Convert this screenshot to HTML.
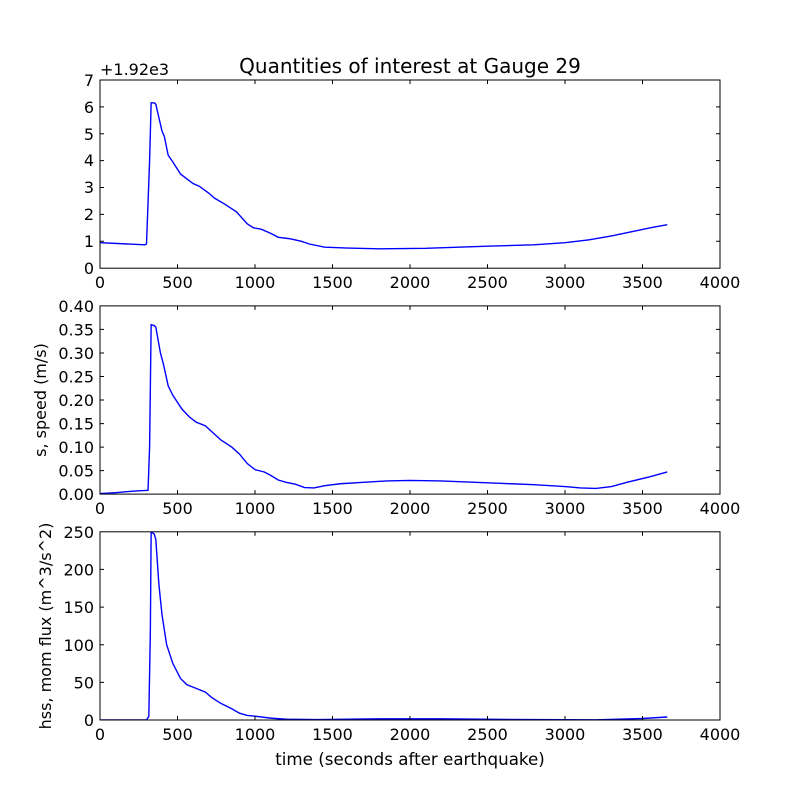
<!DOCTYPE html>
<html><head><meta charset="utf-8"><style>body{margin:0;background:#fff}svg{display:block}text{font-family:"DejaVu Sans","Liberation Sans",sans-serif;fill:#000}</style></head><body>
<svg width="800" height="800" viewBox="0 0 800 800" xmlns="http://www.w3.org/2000/svg">
<rect width="800" height="800" fill="#fff"/>
<defs>
<clipPath id="c1"><rect x="100" y="80" width="620" height="188.2"/></clipPath>
<clipPath id="c2"><rect x="100" y="305.9" width="620" height="188.2"/></clipPath>
<clipPath id="c3"><rect x="100" y="531.8" width="620" height="188.2"/></clipPath>
</defs>
<g clip-path="url(#c1)"><g transform="translate(100,268.2) scale(0.155,-26.89)">
<polyline fill="none" stroke="#0000ff" stroke-width="1.4" vector-effect="non-scaling-stroke" points="0,0.95 290,0.87 300,0.9 320,4 330,6.15 350,6.15 360,6.1 380,5.6 400,5.1 415,4.9 440,4.2 470,3.95 520,3.5 600,3.15 640,3.05 700,2.8 740,2.6 800,2.4 880,2.1 950,1.65 990,1.5 1040,1.45 1100,1.3 1150,1.15 1220,1.1 1300,1.0 1350,0.9 1450,0.78 1600,0.75 1800,0.72 2100,0.74 2500,0.82 2800,0.87 3000,0.95 3150,1.05 3300,1.2 3450,1.38 3550,1.5 3660,1.62"/>
</g></g>
<g clip-path="url(#c2)"><g transform="translate(100,494.1) scale(0.155,-470.5)">
<polyline fill="none" stroke="#0000ff" stroke-width="1.4" vector-effect="non-scaling-stroke" points="0,0.001 100,0.003 200,0.006 250,0.007 310,0.008 320,0.1 330,0.36 350,0.358 360,0.355 390,0.3 410,0.275 440,0.23 470,0.21 530,0.18 580,0.163 620,0.153 680,0.145 720,0.133 780,0.115 850,0.1 900,0.085 950,0.065 1000,0.052 1060,0.047 1100,0.04 1150,0.03 1200,0.025 1260,0.021 1320,0.014 1380,0.013 1450,0.018 1550,0.022 1700,0.025 1850,0.028 2000,0.029 2200,0.028 2500,0.024 2800,0.02 3000,0.016 3100,0.013 3200,0.012 3300,0.016 3400,0.025 3550,0.037 3660,0.047"/>
</g></g>
<g clip-path="url(#c3)"><g transform="translate(100,720) scale(0.155,-0.7528)">
<polyline fill="none" stroke="#0000ff" stroke-width="1.4" vector-effect="non-scaling-stroke" points="0,0 300,0 315,5 325,120 330,250 350,247 360,240 380,180 400,140 430,100 470,75 520,55 560,47 620,42 680,37 720,30 780,22 850,15 900,9 950,6 1000,5 1100,2.5 1200,1 1400,0.5 1800,1.5 2200,1.5 2800,0.5 3200,0.3 3500,2 3660,4"/>
</g></g>
<g fill="none" stroke="#000" stroke-width="1">
<rect x="100" y="80" width="620" height="188.2"/>
<rect x="100" y="305.9" width="620" height="188.2"/>
<rect x="100" y="531.8" width="620" height="188.2"/>
<path d="M177.5,80v4M255,80v4M332.5,80v4M410,80v4M487.5,80v4M565,80v4M642.5,80v4M177.5,268.2v-4M255,268.2v-4M332.5,268.2v-4M410,268.2v-4M487.5,268.2v-4M565,268.2v-4M642.5,268.2v-4
M177.5,305.9v4M255,305.9v4M332.5,305.9v4M410,305.9v4M487.5,305.9v4M565,305.9v4M642.5,305.9v4M177.5,494.1v-4M255,494.1v-4M332.5,494.1v-4M410,494.1v-4M487.5,494.1v-4M565,494.1v-4M642.5,494.1v-4
M177.5,531.8v4M255,531.8v4M332.5,531.8v4M410,531.8v4M487.5,531.8v4M565,531.8v4M642.5,531.8v4M177.5,720v-4M255,720v-4M332.5,720v-4M410,720v-4M487.5,720v-4M565,720v-4M642.5,720v-4
M100,241.3h4M100,214.4h4M100,187.5h4M100,160.6h4M100,133.7h4M100,106.9h4M720,241.3h-4M720,214.4h-4M720,187.5h-4M720,160.6h-4M720,133.7h-4M720,106.9h-4
M100,470.6h4M100,447.1h4M100,423.6h4M100,400h4M100,376.5h4M100,353h4M100,329.4h4M720,470.6h-4M720,447.1h-4M720,423.6h-4M720,400h-4M720,376.5h-4M720,353h-4M720,329.4h-4
M100,682.4h4M100,644.7h4M100,607.1h4M100,569.4h4M720,682.4h-4M720,644.7h-4M720,607.1h-4M720,569.4h-4"/>
</g>
<g font-size="16" text-anchor="middle">
<text x="100" y="288">0</text><text x="177.5" y="288">500</text><text x="255" y="288">1000</text><text x="332.5" y="288">1500</text><text x="410" y="288">2000</text><text x="487.5" y="288">2500</text><text x="565" y="288">3000</text><text x="642.5" y="288">3500</text><text x="720" y="288">4000</text>
<text x="100" y="514">0</text><text x="177.5" y="514">500</text><text x="255" y="514">1000</text><text x="332.5" y="514">1500</text><text x="410" y="514">2000</text><text x="487.5" y="514">2500</text><text x="565" y="514">3000</text><text x="642.5" y="514">3500</text><text x="720" y="514">4000</text>
<text x="100" y="740">0</text><text x="177.5" y="740">500</text><text x="255" y="740">1000</text><text x="332.5" y="740">1500</text><text x="410" y="740">2000</text><text x="487.5" y="740">2500</text><text x="565" y="740">3000</text><text x="642.5" y="740">3500</text><text x="720" y="740">4000</text>
</g>
<g font-size="16" text-anchor="end">
<text x="94" y="274">0</text><text x="94" y="247">1</text><text x="94" y="220">2</text><text x="94" y="193">3</text><text x="94" y="166">4</text><text x="94" y="140">5</text><text x="94" y="113">6</text><text x="94" y="86">7</text>
<text x="94" y="500">0.00</text><text x="94" y="476.5">0.05</text><text x="94" y="453">0.10</text><text x="94" y="429.5">0.15</text><text x="94" y="406">0.20</text><text x="94" y="382.5">0.25</text><text x="94" y="359">0.30</text><text x="94" y="335.5">0.35</text><text x="94" y="312">0.40</text>
<text x="94" y="726">0</text><text x="94" y="688.5">50</text><text x="94" y="651">100</text><text x="94" y="613">150</text><text x="94" y="575.5">200</text><text x="94" y="538">250</text>
</g>
<text x="100" y="75" font-size="16">+1.92e3</text>
<text x="410" y="73" font-size="20" text-anchor="middle">Quantities of interest at Gauge 29</text>
<text x="410" y="765" font-size="16.7" text-anchor="middle">time (seconds after earthquake)</text>
<text transform="translate(46,400) rotate(-90)" font-size="16" text-anchor="middle">s, speed (m/s)</text>
<text transform="translate(51,626) rotate(-90)" font-size="16" text-anchor="middle">hss, mom flux (m^3/s^2)</text>
</svg>
</body></html>
